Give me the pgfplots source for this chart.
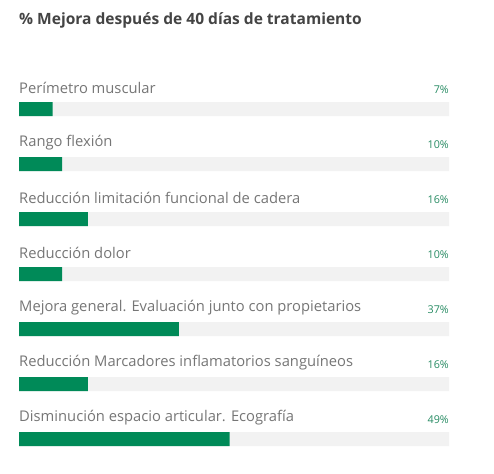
\documentclass[border=0pt]{standalone}
\usepackage{fontspec}
\setmainfont{Open Sans}
\usepackage{pgfplots}
\pgfplotsset{compat=1.18}
\definecolor{bargreen}{RGB}{0,138,88}
\definecolor{valgreen}{RGB}{40,140,100}
\definecolor{track}{RGB}{242,242,242}
\definecolor{labgray}{RGB}{118,118,118}
\definecolor{titlegray}{RGB}{68,68,68}
\tikzset{
  lab/.style={anchor=west,inner sep=0pt,font=\fontsize{14.8}{16}\selectfont,text=labgray,yshift=21bp},
  val/.style={anchor=east,inner sep=0pt,font=\fontsize{10.8}{12}\selectfont,text=valgreen,yshift=19bp},
}
\begin{document}
\begin{tikzpicture}[x=1bp,y=1bp]
\path[use as bounding box,fill=white] (0,0) rectangle (494,474);
\node[anchor=west,font=\fontsize{15.6}{17}\selectfont\bfseries,text=titlegray,inner sep=0pt] at (19,453.5) {\% Mejora después de 40 días de tratamiento};
\begin{axis}[
  at={(19bp,7.5bp)}, anchor=south west,
  width=430bp, height=385bp, scale only axis,
  xmin=0, xmax=100, ymin=-0.5, ymax=6.5, y dir=reverse,
  axis lines=none, xtick=\empty, ytick=\empty,
  xbar, bar width=14bp, bar shift=0pt,
  clip=false,
]
\addplot[fill=track, draw=none] coordinates {(100,0) (100,1) (100,2) (100,3) (100,4) (100,5) (100,6)};
\addplot[fill=bargreen, draw=none] coordinates {(7.8,0) (10,1) (16,2) (10,3) (37.2,4) (16,5) (49,6)};
\foreach \i/\lab/\v in {0/Perímetro muscular/7,1/Rango flexión/10,2/Reducción limitación funcional de cadera/16,3/Reducción dolor/10,4/Mejora general. Evaluación junto con propietarios/37,5/Reducción Marcadores inflamatorios sanguíneos/16,6/Disminución espacio articular. Ecografía/49}{
  \edef\temp{\noexpand\node[lab] at (axis cs:0,\i) {\lab};
    \noexpand\node[val] at (axis cs:100,\i) {\v\noexpand\%};}
  \temp
}
\end{axis}
\end{tikzpicture}
\end{document}
